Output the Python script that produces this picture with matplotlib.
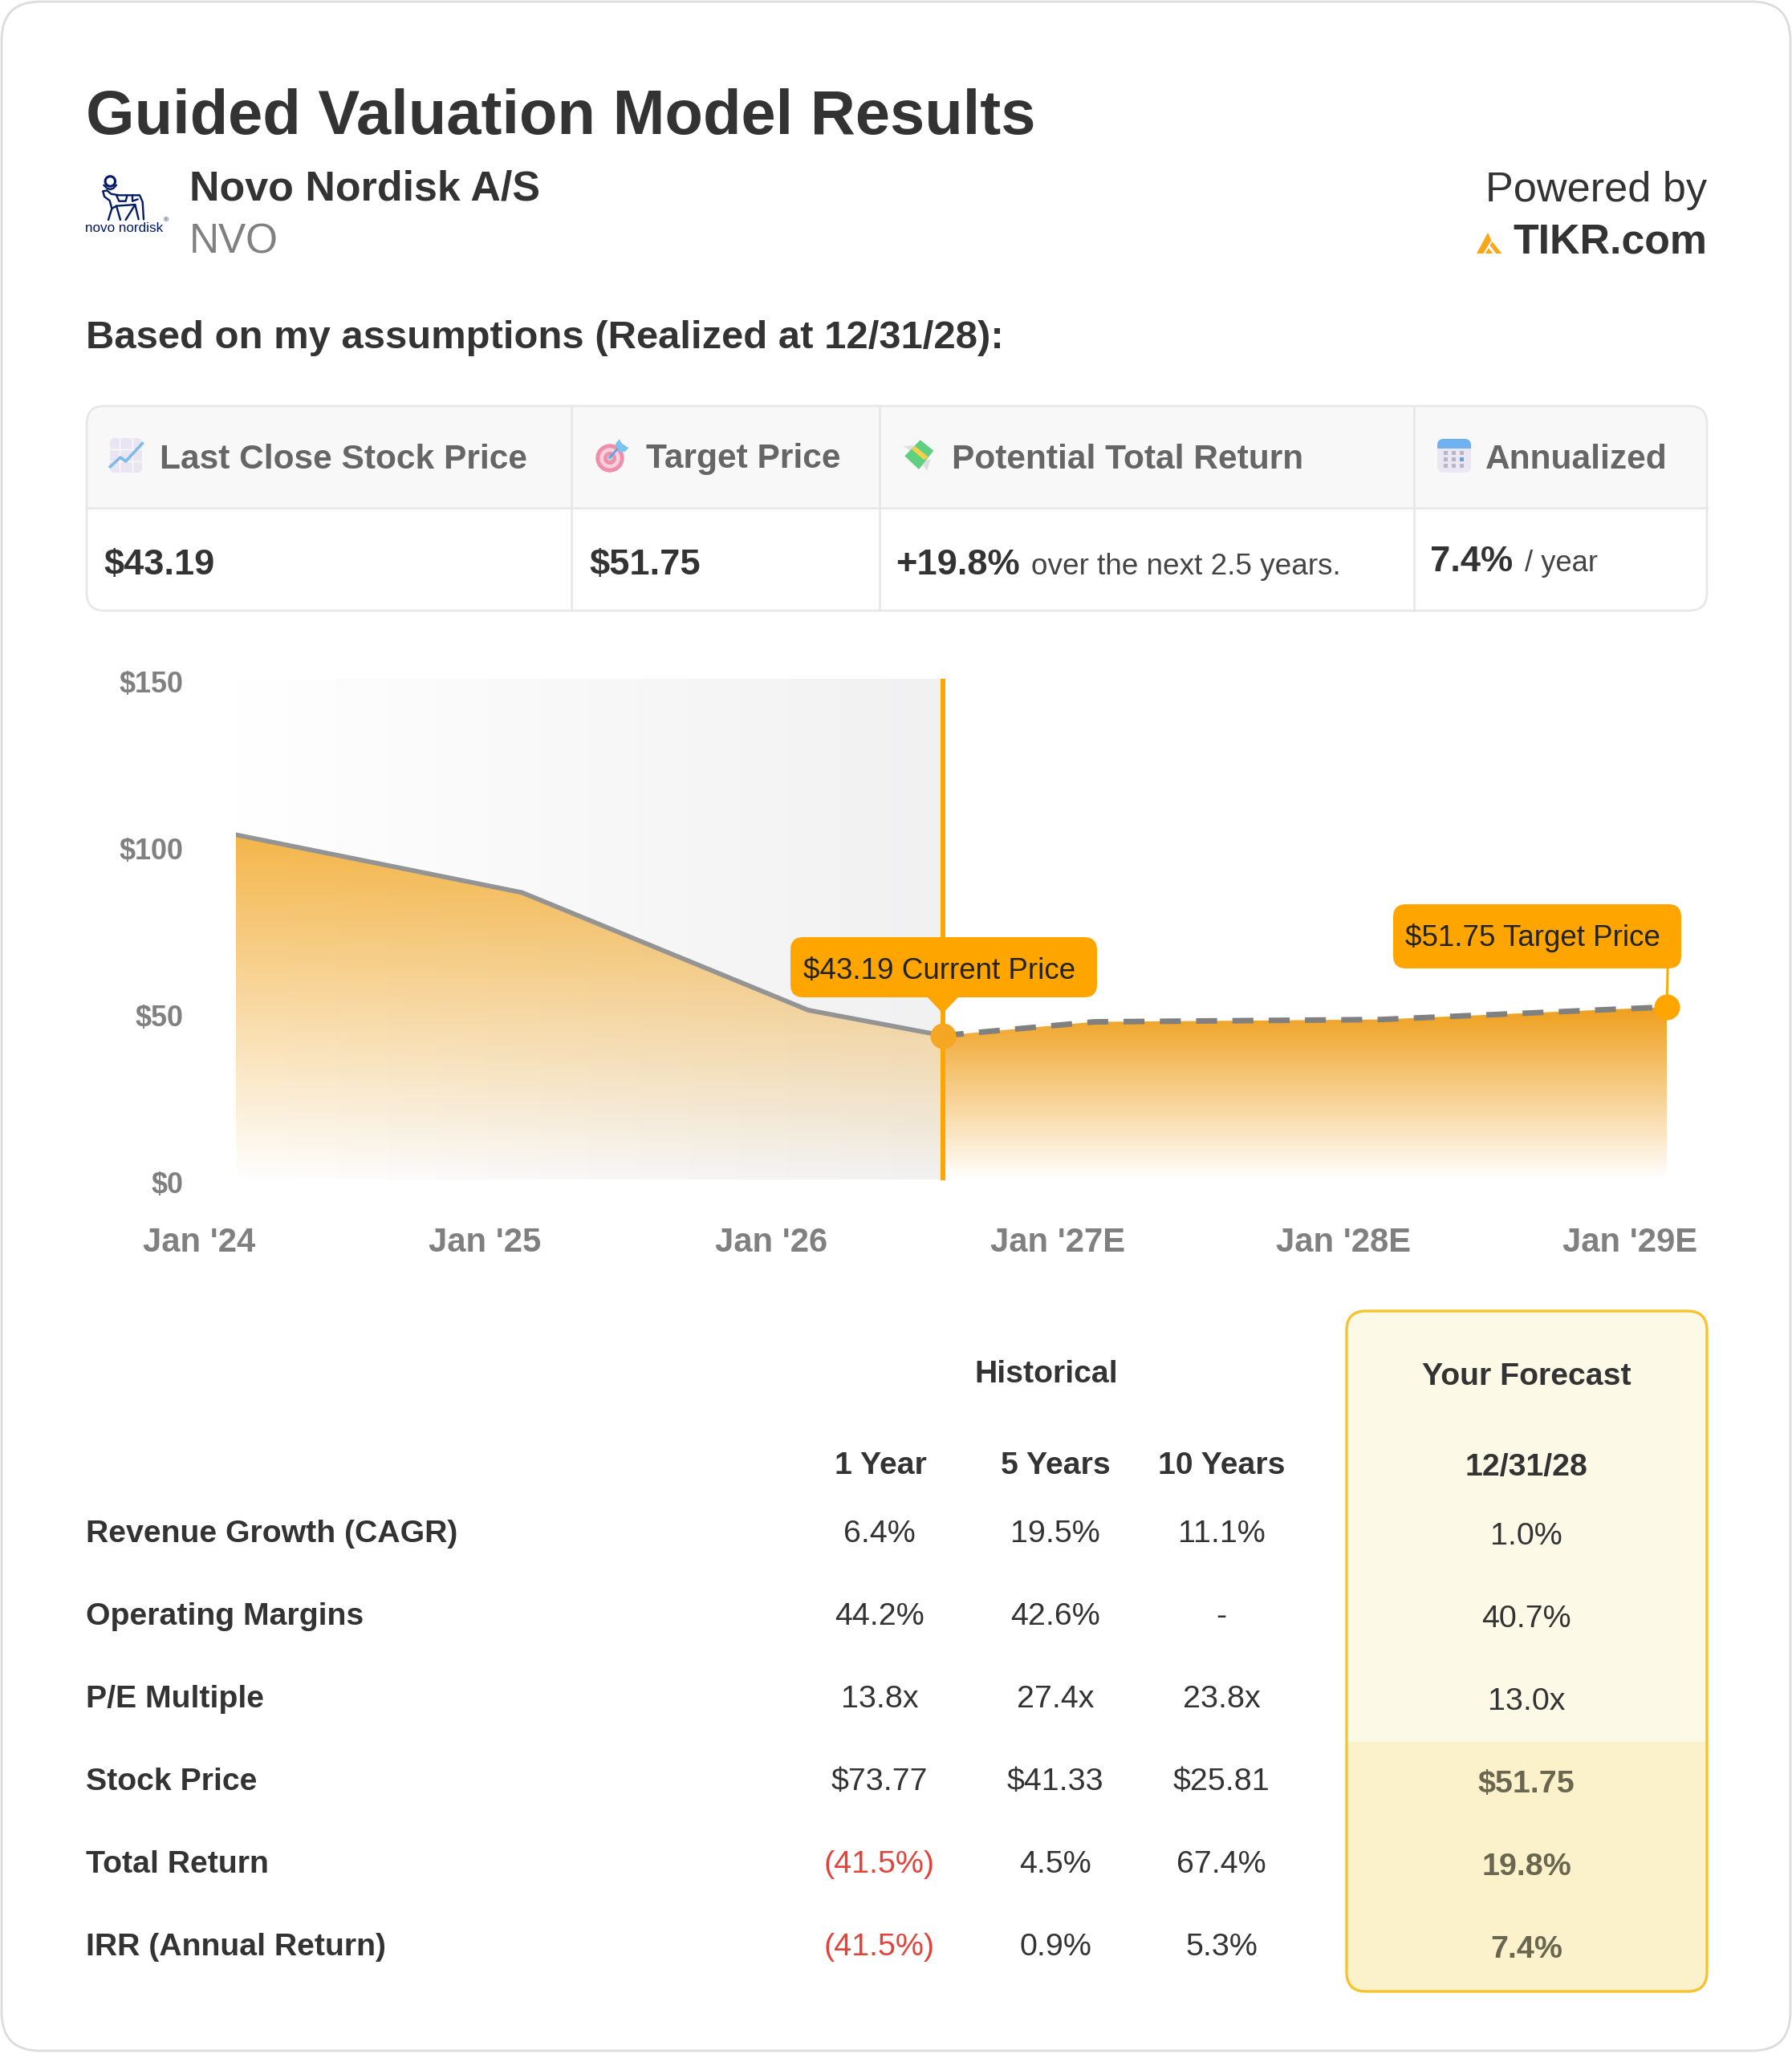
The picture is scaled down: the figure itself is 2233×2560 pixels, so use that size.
import numpy as np
import matplotlib
matplotlib.use("Agg")
import matplotlib.pyplot as plt
from matplotlib.patches import FancyBboxPatch, Rectangle, Circle, Polygon
from matplotlib.transforms import ScaledTranslation

# ---------- data ----------
hist_x = [0, 1, 2, 2.47]
hist_y = [103.3, 86.0, 50.8, 43.19]
fc_x = [2.47, 3, 4, 5]
fc_y = [43.19, 47.3, 48.0, 51.75]
x_ticks = [0, 1, 2, 3, 4, 5]
x_labels = ["Jan '24", "Jan '25", "Jan '26", "Jan '27E", "Jan '28E", "Jan '29E"]
y_ticks = [0, 50, 100, 150]
y_labels = ["$0", "$50", "$100", "$150"]

kpi_heads = ["Last Close Stock Price", "Target Price", "Potential Total Return", "Annualized"]
row_names = ["Revenue Growth (CAGR)", "Operating Margins", "P/E Multiple",
             "Stock Price", "Total Return", "IRR (Annual Return)"]
col_names = ["1 Year", "5 Years", "10 Years"]
one_year = ["6.4%", "44.2%", "13.8x", "$73.77", "(41.5%)", "(41.5%)"]
five_year = ["19.5%", "42.6%", "27.4x", "$41.33", "4.5%", "0.9%"]
ten_year = ["11.1%", "-", "23.8x", "$25.81", "67.4%", "5.3%"]
forecast = ["1.0%", "40.7%", "13.0x", "$51.75", "19.8%", "7.4%"]

# ---------- setup ----------
W, H = 2233, 2560
DPI = 100
plt.rcParams["font.family"] = ["Liberation Sans", "DejaVu Sans"]
fig = plt.figure(figsize=(W / DPI, H / DPI), dpi=DPI, facecolor="white")
rend = fig.canvas.get_renderer()


def px_axes(z):
    a = fig.add_axes([0, 0, 1, 1], zorder=z)
    a.set_xlim(0, W)
    a.set_ylim(H, 0)
    a.axis("off")
    a.patch.set_alpha(0)
    return a


L = px_axes(0)
TOP = px_axes(3)


def fit(s, width, weight="normal"):
    t = fig.text(0, 0, s, fontsize=20, fontweight=weight)
    w = t.get_window_extent(rend).width
    t.remove()
    return 20 * width / w


def tx(a, x, y, s, size, weight="normal", color="#333333", ha="left"):
    return a.text(x, y, s, fontsize=size, fontweight=weight, color=color, ha=ha, va="center_baseline")


def rr(a, x0, y0, x1, y1, r, fc="none", ec="none", lw=0, z=1):
    p = FancyBboxPatch((x0, y0), x1 - x0, y1 - y0, boxstyle=f"round,pad=0,rounding_size={r}",
                       fc=fc, ec=ec, lw=lw, zorder=z, mutation_aspect=1)
    a.add_patch(p)
    return p


# card
rr(L, 2, 2, W - 2, H - 4, 48, fc="white", ec="#dcdcdc", lw=2)

# heading
tx(L, 107, 139, "Guided Valuation Model Results", fit("Guided Valuation Model Results", 1184, "bold"), "bold")
tx(L, 236, 231, "Novo Nordisk A/S", fit("Novo Nordisk A/S", 437, "bold"), "bold")
tx(L, 236, 296, "NVO", fit("NVO", 111), color="#808080")
tx(L, 2127, 232, "Powered by", fit("Powered by", 275), ha="right")
tx(L, 2127, 296, "TIKR.com", fit("TIKR.com", 242, "bold"), "bold", ha="right")
tx(L, 107, 417, "Based on my assumptions (Realized at 12/31/28):",
   fit("Based on my assumptions (Realized at 12/31/28):", 1141, "bold"), "bold")


# logo
def b(pts):
    return [(100 + x / 3, 210 + y / 3) for x, y in pts]


navy = "#001965"
L.add_patch(Circle(b([(112, 48)])[0], 6.2, fc="none", ec=navy, lw=2.2, zorder=2))
for line in [
    [(88, 62), (100, 74), (112, 78), (124, 74), (135, 62)],
    [(85, 85), (100, 82), (115, 95), (145, 100), (222, 100), (233, 125), (237, 190)],
    [(85, 85), (90, 105), (110, 120), (118, 150), (105, 192)],
    [(118, 150), (135, 140), (205, 135), (218, 190)],
    [(135, 140), (150, 192)],
    [(205, 135), (170, 192)],
    [(135, 100), (145, 122), (170, 122), (175, 102)],
    [(195, 100), (195, 122), (215, 115)],
]:
    xy = np.array(b(line))
    L.plot(xy[:, 0], xy[:, 1], color=navy, lw=1.7, solid_capstyle="round", zorder=2)
tx(L, 106, 283, "novo nordisk", fit("novo nordisk", 97), color=navy)
tx(L, 204, 274, "®", 6, color=navy)

# TIKR mark
t = lambda pts: [(1830 + x / 3, 270 + y / 3) for x, y in pts]
for pts in ([(30, 138), (72, 60), (85, 88), (55, 138)],
            [(88, 93), (124, 138), (103, 138), (80, 108)],
            [(62, 138), (75, 118), (90, 138)]):
    L.add_patch(Polygon(t(pts), fc="#F9A61A", ec="none", zorder=2))

# KPI table
tb = rr(L, 108, 506, 2127, 761, 22, fc="white", z=1)
hd = Rectangle((108, 506), 2019, 127, fc="#f8f8f8", ec="none", zorder=1.2)
L.add_patch(hd)
hd.set_clip_path(tb)
rr(L, 108, 506, 2127, 761, 22, ec="#e8e8e8", lw=2, z=1.5)
L.plot([108, 2127], [633, 633], color="#e8e8e8", lw=2, zorder=1.4)
for xs in (712, 1096, 1762):
    L.plot([xs, xs], [506, 761], color="#e8e8e8", lw=2, zorder=1.4)
head_size = fit(kpi_heads[0], 459, "bold")
for x, s in zip((199, 805, 1186, 1851), kpi_heads):
    tx(L, x, 568, s, head_size, "bold", "#666666")
val_size = fit("$43.19", 138, "bold")
tx(L, 129, 700, "$43.19", val_size, "bold")
tx(L, 734, 700, "$51.75", val_size, "bold")
tx(L, 1116, 700, "+19.8%", val_size, "bold")
tx(L, 1285, 702, "over the next 2.5 years.", fit("over the next 2.5 years.", 385), color="#444444")
tx(L, 1782, 696, "7.4%", val_size, "bold")
tx(L, 1900, 699, "/ year", fit("/ year", 91), color="#444444")

# KPI icons
zc = lambda x0, pts: [(x0 + x / 3, 530 + y / 3) for x, y in pts]
rr(L, 137, 546, 177, 589, 6, fc="#e9e5f3", z=2)
for v in (149, 165):
    L.plot([v, v], [546, 589], color="white", lw=0.9, zorder=2.1)
for v in (560, 575):
    L.plot([137, 177], [v, v], color="white", lw=0.9, zorder=2.1)
xy = np.array(zc(120, [(52, 155), (90, 120), (110, 135), (172, 68)]))
L.plot(xy[:, 0], xy[:, 1], color="#7fbbe6", lw=2.6, zorder=2.2)

for r, c in ((17.7, "#ee8fab"), (12.7, "#f7d0dc"), (8, "#ee8fab"), (3.5, "#c8c8d4")):
    L.add_patch(Circle((760, 571), r, fc=c, ec="none", zorder=2))
xy = np.array(zc(730, [(90, 120), (130, 75)]))
L.plot(xy[:, 0], xy[:, 1], color="#5ba8e0", lw=2, zorder=2.2)
L.add_patch(Polygon(zc(730, [(110, 70), (125, 52), (135, 68), (160, 85), (145, 100), (125, 100)]),
                    fc="#7cc4f0", ec="none", zorder=2.3))

L.add_patch(Polygon(zc(1110, [(45, 78), (85, 75), (75, 95)]), fc="#dedee2", ec="none", zorder=2))
L.add_patch(Polygon(zc(1110, [(115, 140), (150, 125), (135, 170)]), fc="#dedee2", ec="none", zorder=2))
L.add_patch(Polygon(zc(1110, [(110, 55), (160, 95), (105, 165), (52, 115)]), fc="#5fcf80", ec="none", zorder=2.1))
L.add_patch(Polygon(zc(1110, [(78, 90), (90, 78), (140, 118), (125, 130)]), fc="#f7cf4a", ec="none", zorder=2.2))

cal = rr(L, 1791, 547, 1833, 589, 8, fc="#ebe6f4", z=2)
bar = Rectangle((1791, 547), 42, 12, fc="#6fb1f0", ec="none", zorder=2.1)
L.add_patch(bar)
bar.set_clip_path(cal)
for i, yy in enumerate((564, 572, 580)):
    for j, xx in enumerate((1801, 1811, 1821)):
        c = "#57a6ea" if (i == 1 and j == 2) else "#b9b5c2"
        L.add_patch(Rectangle((xx - 2.5, yy - 2.5), 5, 5, fc=c, ec="none", zorder=2.2))

# ---------- chart ----------
X0, X1 = 294, 2077
Y0, Y1 = 1470.5, 846
ax = fig.add_axes([X0 / W, 1 - Y0 / H, (X1 - X0) / W, (Y0 - Y1) / H], zorder=1)
ax.patch.set_alpha(0)
cur = hist_x[-1]


def gradient_rgba(rgb, a_top, n=256):
    g = np.zeros((n, 1, 4))
    g[..., 0], g[..., 1], g[..., 2] = rgb[0], rgb[1], rgb[2]
    g[:, 0, 3] = np.linspace(a_top, 0, n)
    return g


shade = np.ones((1, 256, 3))
for k, v in enumerate((0.945, 0.945, 0.95)):
    shade[0, :, k] = np.linspace(1.0, v, 256)
ax.imshow(shade, extent=[0, cur, 0, 150], aspect="auto", zorder=1)

p1 = ax.fill_between(hist_x, hist_y, 0, color="none")
im1 = ax.imshow(gradient_rgba((0.95, 0.66, 0.16), 0.85), extent=[0, cur, 0, max(hist_y)], aspect="auto", zorder=2)
im1.set_clip_path(p1.get_paths()[0], transform=ax.transData)
p2 = ax.fill_between(fc_x, fc_y, 0, color="none")
im2 = ax.imshow(gradient_rgba((0.94, 0.62, 0.10), 1.0), extent=[cur, 5, 0, max(fc_y)], aspect="auto", zorder=2)
im2.set_clip_path(p2.get_paths()[0], transform=ax.transData)

ax.plot(hist_x, hist_y, color="#949494", lw=4.2, zorder=3, solid_capstyle="round")
ax.plot(fc_x, fc_y, color="#808080", lw=5, linestyle=(0, (3.76, 2.75)), dash_capstyle="butt", zorder=3)
ax.axvline(cur, color="#FFA500", lw=4.3, zorder=4)
ax.plot([cur], [hist_y[-1]], "o", ms=23, color="#F5A623", mec="none", zorder=5, clip_on=False)
ax.plot([fc_x[-1]], [fc_y[-1]], "o", ms=23, color="#FFA500", mec="none", zorder=5, clip_on=False)

ax.set_xlim(0, 5)
ax.set_ylim(0, 150)
for s in ax.spines.values():
    s.set_visible(False)
ax.set_yticks(y_ticks, y_labels)
ax.set_xticks(x_ticks, x_labels)
ax.tick_params(axis="y", length=0, pad=47, labelsize=fit("$150", 80, "bold"), labelcolor="#808080")
ax.tick_params(axis="x", length=0, pad=42, labelsize=fit("Jan '24", 140, "bold"), labelcolor="#808080")
for lab in ax.get_xticklabels():
    lab.set_fontweight("bold")
    lab.set_transform(lab.get_transform() + ScaledTranslation(-46 / DPI, 0, fig.dpi_scale_trans))
for lab in ax.get_yticklabels():
    lab.set_fontweight("bold")
    lab.set_transform(lab.get_transform() + ScaledTranslation(0, -3 / DPI, fig.dpi_scale_trans))

# callouts
orange = "#FFA500"
cur_px = X0 + cur * (X1 - X0) / 5
rr(TOP, 985, 1168, 1367, 1243, 16, fc=orange, z=2)
TOP.add_patch(Polygon([(cur_px - 20, 1242), (cur_px + 20, 1242), (cur_px, 1263)], fc=orange, ec="none", zorder=2))
lab_size = fit("$43.19 Current Price", 339)
tx(TOP, 1171, 1207, "$43.19 Current Price", lab_size, color="#222222", ha="center")
rr(TOP, 1736, 1127, 2095, 1207, 16, fc=orange, z=2)
TOP.plot([2078, 2077], [1206, 1256], color=orange, lw=2, zorder=1.5)
tx(TOP, 1910, 1165, "$51.75 Target Price", lab_size, color="#222222", ha="center")

# ---------- lower table ----------
box = rr(L, 1678, 1634, 2127, 2482, 24, fc="#fdf9e7", z=1)
low = Rectangle((1678, 2171), 449, 311, fc="#fbf2cc", ec="none", zorder=1.2)
L.add_patch(low)
low.set_clip_path(box)
rr(L, 1678, 1634, 2127, 2482, 24, ec="#f5c32c", lw=2.4, z=1.5)

hs = fit("Revenue Growth (CAGR)", 464, "bold")
cs = fit("$73.77", 120)
ys = [1908, 2011, 2114, 2217, 2320, 2423]
col_x = [1096, 1315, 1522]
tx(L, 1304, 1709, "Historical", hs, "bold", ha="center")
tx(L, 1097, 1823, col_names[0], hs, "bold", ha="center")
tx(L, 1315, 1823, col_names[1], hs, "bold", ha="center")
tx(L, 1522, 1823, col_names[2], hs, "bold", ha="center")
tx(L, 1902, 1712, "Your Forecast", hs, "bold", ha="center")
tx(L, 1902, 1825, "12/31/28", hs, "bold", ha="center")
for i, (nm, y) in enumerate(zip(row_names, ys)):
    tx(L, 107, y, nm, hs, "bold")
    for cx, col in zip(col_x, (one_year, five_year, ten_year)):
        s = col[i]
        tx(L, cx, y, s, cs, color="#e0443a" if s.startswith("(") else "#333333", ha="center")
    if i < 3:
        tx(L, 1902, y + 3, forecast[i], cs, ha="center")
    else:
        tx(L, 1902, y + 3, forecast[i], cs, "bold", "#6b6650", ha="center")

fig.savefig("out.png", dpi=DPI, facecolor="white")
